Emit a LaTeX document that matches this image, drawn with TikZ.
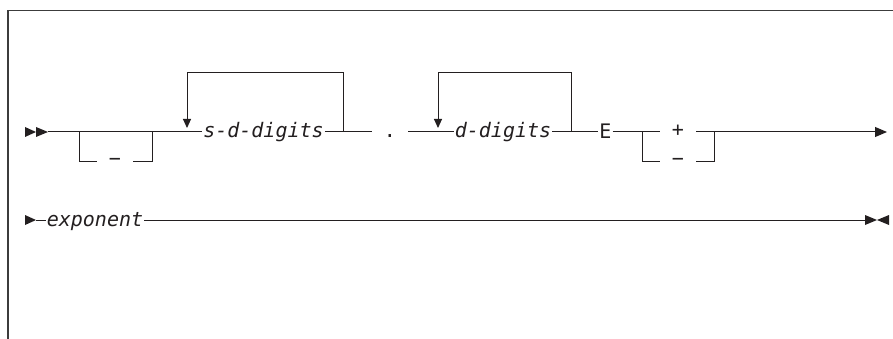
\documentclass[tikz,border=0pt]{standalone}
\usepackage{fontspec}
\newfontfamily\rrfont{DejaVu Sans Mono}
\usetikzlibrary{arrows.meta}
\definecolor{ink}{HTML}{231F20}
\definecolor{framec}{HTML}{3C3C3C}
\begin{document}
\begin{tikzpicture}[x=1pt,y=-1pt,
  rail/.style={draw=ink,line width=1pt},
  tip/.style={-{Triangle[length=9pt,width=8pt]}},
  endtip/.style={-{Triangle[length=12pt,width=10pt]}},
  lbl/.style={inner xsep=1pt,inner ysep=0pt,anchor=base,text=ink,
    font=\rrfont\fontsize{20}{23}\selectfont},
  ital/.style={lbl,font=\rrfont\itshape\fontsize{20}{23}\selectfont},
  gapbox/.style={lbl,inner xsep=0pt,minimum width=36pt},
  trimark/.style={fill=ink}]
\useasboundingbox (0,0) rectangle (893,339);
% frame
\draw[framec,line width=1.3pt] (8,339) -- (8,10.7) -- (893,10.7);
% row coordinates
\coordinate (r1) at (0,132);
\coordinate (lo) at (0,162);
\coordinate (top) at (0,73);
\coordinate (r2) at (0,220);
% start marks row 1
\coordinate (s1) at (48,132);
\fill[trimark] (25,127) -- (36,132) -- (25,137) -- cycle;
\fill[trimark] (36,127) -- (48,132) -- (36,137) -- cycle;
% junctions
\coordinate (b1s) at (79,132);
\coordinate (b1e) at (152,132);
\coordinate (l1a) at (187,128);
\coordinate (l1b) at (343,132);
\coordinate (l2a) at (438,128);
\coordinate (l2b) at (571,132);
\coordinate (b2s) at (642,132);
\coordinate (b2e) at (714,132);
\coordinate (end1) at (887,132);
% labels
\node[gapbox] (m1) at (115,166) {−};
\node[ital] (sdd) at (263.5,138) {s-d-digits};
\node[gapbox] (dot) at (390,138) {.};
\node[ital] (dd) at (503,138) {d-digits};
\node[lbl] (E) at (605.5,139) {E};
\node[gapbox] (pl) at (678,137) {+};
\node[gapbox] (m2) at (678,166) {−};
% row 1 rails
\draw[rail] (s1) -- (sdd.west|-r1);
\draw[rail] (b1s) |- (m1.west|-lo);
\draw[rail] (m1.east|-lo) -| (b1e);
\draw[rail,tip] (l1b) |- (l1a|-top) -- (l1a);
\draw[rail] (sdd.east|-r1) -- (dot.west|-r1);
\draw[rail] (dot.east|-r1) -- (dd.west|-r1);
\draw[rail,tip] (l2b) |- (l2a|-top) -- (l2a);
\draw[rail] (dd.east|-r1) -- (E.west|-r1);
\draw[rail] (E.east|-r1) -- (pl.west|-r1);
\draw[rail] (b2s) |- (m2.west|-lo);
\draw[rail] (m2.east|-lo) -| (b2e);
\draw[rail,endtip] (pl.east|-r1) -- (end1);
% row 2
\coordinate (s2) at (36,220);
\coordinate (end2) at (865,220);
\fill[trimark] (25,215) -- (36,220) -- (25,225) -- cycle;
\node[ital] (exp) at (95,226) {exponent};
\draw[rail] (s2) -- (exp.west|-r2);
\draw[rail] (exp.east|-r2) -- (end2);
\fill[trimark] (865,215) -- (877,220) -- (865,225) -- cycle;
\fill[trimark] (889,215) -- (877,220) -- (889,225) -- cycle;
\end{tikzpicture}
\end{document}
